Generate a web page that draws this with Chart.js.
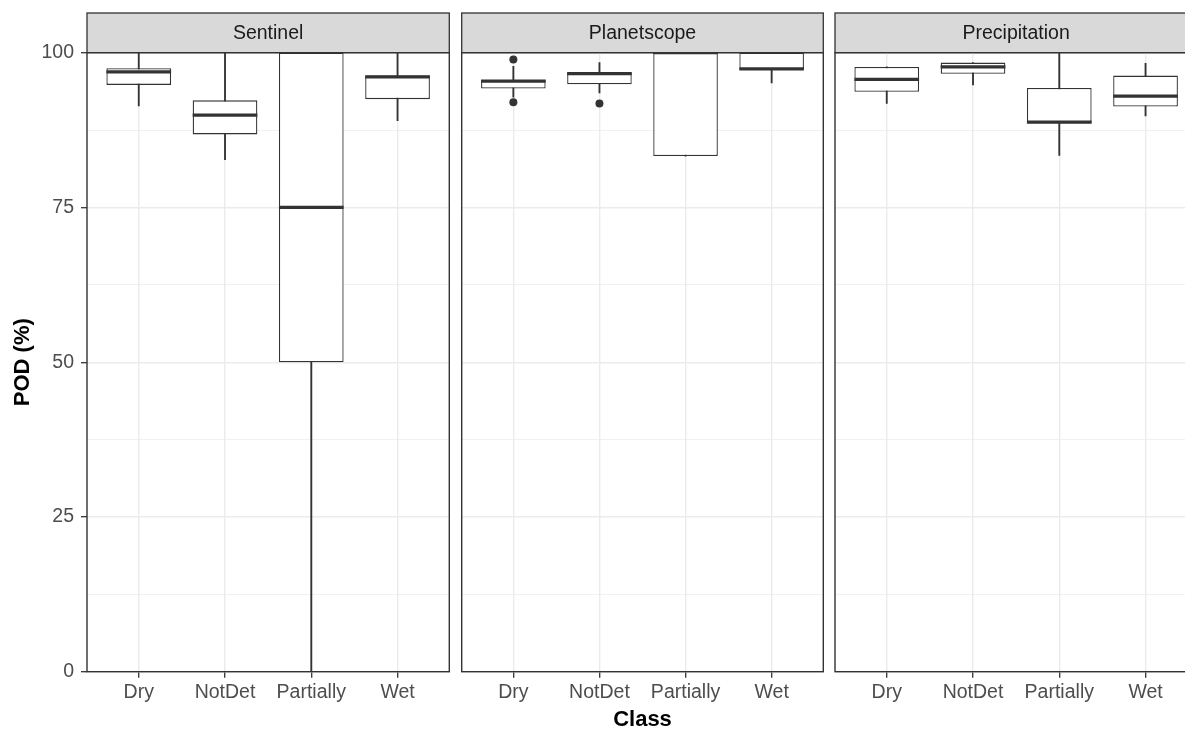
<!DOCTYPE html>
<html>
<head>
<meta charset="utf-8">
<script src="https://cdn.jsdelivr.net/npm/chart.js@4.4.0/dist/chart.umd.min.js"></script>
<style>
  body { margin: 0; background: #fff; }
  #wrap { position: relative; width: 1185px; height: 729px; overflow: hidden; }
  .panel { position: absolute; top: 0; height: 729px; }
</style>
</head>
<body>
<div id="wrap">
  <div class="panel" style="left:0;width:455px"><canvas id="c1"></canvas></div>
  <div class="panel" style="left:455px;width:374px"><canvas id="c2"></canvas></div>
  <div class="panel" style="left:829px;width:374px"><canvas id="c3"></canvas></div>
</div>
<script>
const classes = ['Dry', 'NotDet', 'Partially', 'Wet'];

// Sentinel
const sentinelLow  = [91.4, 82.7, 0, 89.0];
const sentinelQ1   = [94.8, 86.8, 50, 92.5];
const sentinelMed  = [96.9, 89.9, 75, 96.1];
const sentinelQ3   = [97.5, 92.3, 100, 96.3];
const sentinelHigh = [100, 100, 100, 100];
const sentinelOut  = [];

// Planetscope
const planetLow  = [92.8, 93.5, 83.3, 95.1];
const planetQ1   = [94.2, 94.9, 83.3, 97.2];
const planetMed  = [95.4, 96.6, 100, 97.4];
const planetQ3   = [95.6, 96.9, 100, 100];
const planetHigh = [97.8, 98.4, 100, 100];
const planetOut  = [{ cls: 'Dry', y: 98.9 }, { cls: 'Dry', y: 92.0 }, { cls: 'NotDet', y: 91.8 }];

// Precipitation
const precipLow  = [91.8, 94.8, 83.4, 89.8];
const precipQ1   = [93.7, 96.6, 88.6, 91.3];
const precipMed  = [95.7, 97.7, 88.8, 93.0];
const precipQ3   = [97.7, 98.4, 94.3, 96.3];
const precipHigh = [97.7, 98.4, 100, 98.3];
const precipOut  = [];

const BOX_WIDTH = 0.75;
const INK = '#333333';
const GRID = '#EBEBEB';

Chart.defaults.font.family = "'Liberation Sans', Arial, sans-serif";

// strip background behind the title, and the panel border on top of everything
const stripPlugin = {
    id: 'strip',
    beforeDraw(chart) {
        const { ctx, chartArea: a } = chart;
        const top = chart.titleBlock.top;
        ctx.save();
        ctx.fillStyle = '#D9D9D9';
        ctx.fillRect(a.left, top, a.right - a.left, a.top - top);
        ctx.strokeStyle = INK;
        ctx.lineWidth = 1.3;
        ctx.strokeRect(a.left, top, a.right - a.left, a.top - top);
        ctx.restore();
    },
    afterDraw(chart) {
        const { ctx, chartArea: a } = chart;
        ctx.save();
        ctx.strokeStyle = INK;
        ctx.lineWidth = 1.4;
        ctx.strokeRect(a.left, a.top, a.right - a.left, a.bottom - a.top);
        ctx.restore();
    }
};

function makePanel(id, name, low, q1, med, q3, high, out, first, xTitle, pad) {
    const isMajor = v => Math.abs(v % 25) < 1e-6;
    return new Chart(document.getElementById(id), {
        type: 'bar',
        data: {
            datasets: [
                {
                    // whiskers
                    type: 'bar',
                    data: classes.map((c, i) => ({ x: i + 1, y: [low[i], high[i]] })),
                    grouped: false,
                    barThickness: 1.2,
                    backgroundColor: INK,
                    borderWidth: 0,
                    order: 4,
                    clip: 0
                },
                {
                    // boxes
                    type: 'bar',
                    data: classes.map((c, i) => ({ x: i + 1, y: [q1[i], q3[i]] })),
                    grouped: false,
                    barPercentage: BOX_WIDTH,
                    categoryPercentage: 1,
                    backgroundColor: '#FFFFFF',
                    borderColor: INK,
                    borderWidth: 1.3,
                    borderSkipped: false,
                    order: 3,
                    clip: 0
                },
                {
                    // medians
                    type: 'scatter',
                    data: classes.map((c, i) => ({ x: i + 1, y: med[i] })),
                    pointStyle: 'line',
                    radius: ctx => {
                        const s = ctx.chart.scales.x;
                        return (s.getPixelForValue(2) - s.getPixelForValue(1)) * BOX_WIDTH / 2;
                    },
                    borderColor: INK,
                    borderWidth: 3.2,
                    order: 2,
                    clip: 0
                },
                {
                    // outliers
                    type: 'scatter',
                    data: out.map(o => ({ x: classes.indexOf(o.cls) + 1, y: o.y })),
                    pointStyle: 'circle',
                    radius: 4,
                    backgroundColor: INK,
                    borderWidth: 0,
                    order: 1,
                    clip: 0
                }
            ]
        },
        options: {
            responsive: true,
            maintainAspectRatio: false,
            animation: false,
            events: [],
            layout: { padding: { top: 13, left: pad[0], right: pad[1], bottom: 0 } },
            plugins: {
                legend: { display: false },
                tooltip: { enabled: false },
                title: {
                    display: true,
                    text: name,
                    fullSize: false,
                    color: '#1A1A1A',
                    font: { size: 19.5, weight: 'normal', lineHeight: 1.2 },
                    padding: { top: 9.1, bottom: 7.2 }
                }
            },
            scales: {
                x: {
                    type: 'linear',
                    min: 0.4,
                    max: 4.6,
                    offset: false,
                    afterBuildTicks: s => { s.ticks = classes.map((c, i) => ({ value: i + 1 })); },
                    afterFit: s => { s.height = 57.3; },
                    ticks: {
                        autoSkip: false,
                        maxRotation: 0,
                        padding: 3,
                        color: '#4D4D4D',
                        font: { size: 19.5 },
                        callback: v => classes[v - 1]
                    },
                    grid: { offset: false, color: GRID, lineWidth: 1.4, tickColor: INK, tickLength: 6, tickWidth: 1.3 },
                    border: { display: false },
                    title: {
                        display: xTitle,
                        text: 'Class',
                        color: '#000',
                        font: { size: 22, weight: 'bold', lineHeight: 0.86 },
                        padding: { top: 0, bottom: 0 }
                    }
                },
                y: {
                    min: 0,
                    max: 100,
                    afterFit: s => { s.width = first ? 87 : 0; },
                    ticks: {
                        display: first,
                        stepSize: 12.5,
                        autoSkip: false,
                        padding: 7,
                        color: '#4D4D4D',
                        font: { size: 19.5 },
                        callback: v => isMajor(v) ? String(v) : ''
                    },
                    grid: {
                        color: GRID,
                        lineWidth: ctx => isMajor(ctx.tick.value) ? 1.4 : 0.7,
                        drawTicks: first,
                        tickColor: ctx => isMajor(ctx.tick.value) ? INK : 'rgba(0,0,0,0)',
                        tickLength: 6,
                        tickWidth: 1.3
                    },
                    border: { display: false },
                    title: {
                        display: first,
                        text: 'POD (%)',
                        color: '#000',
                        font: { size: 22, weight: 'bold' },
                        padding: { top: 10, bottom: 0 }
                    }
                }
            }
        },
        plugins: [stripPlugin]
    });
}

makePanel('c1', 'Sentinel', sentinelLow, sentinelQ1, sentinelMed, sentinelQ3, sentinelHigh, sentinelOut, true, false, [0, 5.7]);
makePanel('c2', 'Planetscope', planetLow, planetQ1, planetMed, planetQ3, planetHigh, planetOut, false, true, [6.7, 5.7]);
makePanel('c3', 'Precipitation', precipLow, precipQ1, precipMed, precipQ3, precipHigh, precipOut, false, false, [6, 5.7]);
</script>
</body>
</html>
